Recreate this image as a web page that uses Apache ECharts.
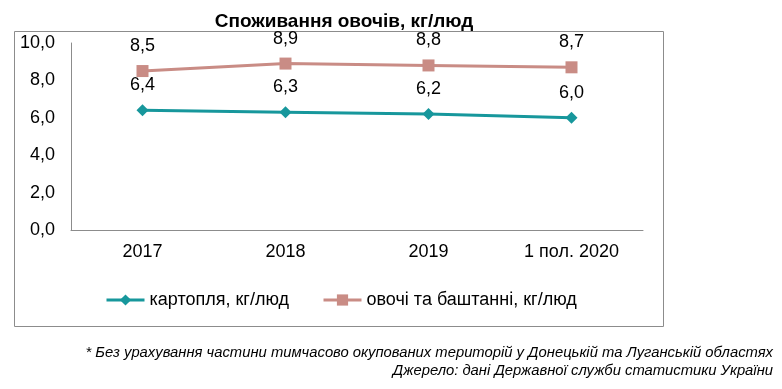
<!DOCTYPE html>
<html><head><meta charset="utf-8">
<script src="https://cdn.jsdelivr.net/npm/echarts@6/dist/echarts.min.js"></script>
<style>html,body{margin:0;padding:0;background:#fff}#c{width:782px;height:389px}</style>
</head><body><div id="c"></div>
<script>
const categories = ['2017', '2018', '2019', '1 пол. 2020'];
const potatoes = [6.4, 6.3, 6.2, 6.0];
const vegetables = [8.5, 8.9, 8.8, 8.7];
const seriesNames = ['картопля, кг/люд', 'овочі та баштанні, кг/люд'];
const titleText = 'Споживання овочів, кг/люд';
const note1 = '* Без урахування частини тимчасово окупованих територій у Донецькій та Луганській областях';
const note2 = 'Джерело: дані Державної служби статистики України';

const font = 'Liberation Sans, Arial, sans-serif';
const chart = echarts.init(document.getElementById('c'), null, {renderer: 'canvas'});
const fmt = p => p.value.toFixed(1).replace('.', ',');
chart.setOption({
  animation: false,
  textStyle: {fontFamily: font},
  graphic: [
    {type: 'rect', shape: {x: 14.5, y: 31.5, width: 649, height: 295}, style: {fill: 'none', stroke: '#8c8c8c', lineWidth: 1}, z: -1},
    {type: 'text', right: 9, top: 345, style: {text: note1, font: 'italic 14.8px ' + font, fill: '#000', textAlign: 'right'}},
    {type: 'text', right: 9, top: 363, style: {text: note2, font: 'italic 14.8px ' + font, fill: '#000', textAlign: 'right'}}
  ],
  title: {text: titleText, left: 339, textAlign: 'center', top: 7,
    textStyle: {fontFamily: font, fontSize: 19, fontWeight: 'bold', color: '#000'}},
  grid: {left: 71, right: 139, top: 43, bottom: 159, containLabel: false},
  legend: {
    top: 286, left: 100,
    itemWidth: 38, itemHeight: 14, itemGap: 33,
    textStyle: {fontFamily: font, fontSize: 18, color: '#000'},
    lineStyle: {width: 3},
    data: seriesNames
  },
  xAxis: {
    type: 'category', data: categories, boundaryGap: true,
    axisLine: {lineStyle: {color: '#8c8c8c'}},
    axisTick: {show: false},
    axisLabel: {color: '#000', fontSize: 18, fontFamily: font, margin: 13}
  },
  yAxis: {
    type: 'value', min: 0, max: 10, interval: 2,
    axisLine: {show: true, lineStyle: {color: '#8c8c8c'}},
    axisTick: {show: false},
    splitLine: {show: false},
    axisLabel: {color: '#000', fontSize: 18, fontFamily: font, margin: 16,
      formatter: v => v.toFixed(1).replace('.', ',')}
  },
  series: [
    {name: seriesNames[0], type: 'line', data: potatoes,
      symbol: 'diamond', symbolSize: 12,
      lineStyle: {color: '#17979C', width: 3},
      itemStyle: {color: '#17979C'},
      label: {show: true, position: 'top', distance: 10, fontSize: 18, color: '#000', fontFamily: font, formatter: fmt}},
    {name: seriesNames[1], type: 'line', data: vegetables,
      symbol: 'rect', symbolSize: 12,
      lineStyle: {color: '#C98C85', width: 3},
      itemStyle: {color: '#C98C85'},
      label: {show: true, position: 'top', distance: 10, fontSize: 18, color: '#000', fontFamily: font, formatter: fmt}}
  ]
});
</script></body></html>
